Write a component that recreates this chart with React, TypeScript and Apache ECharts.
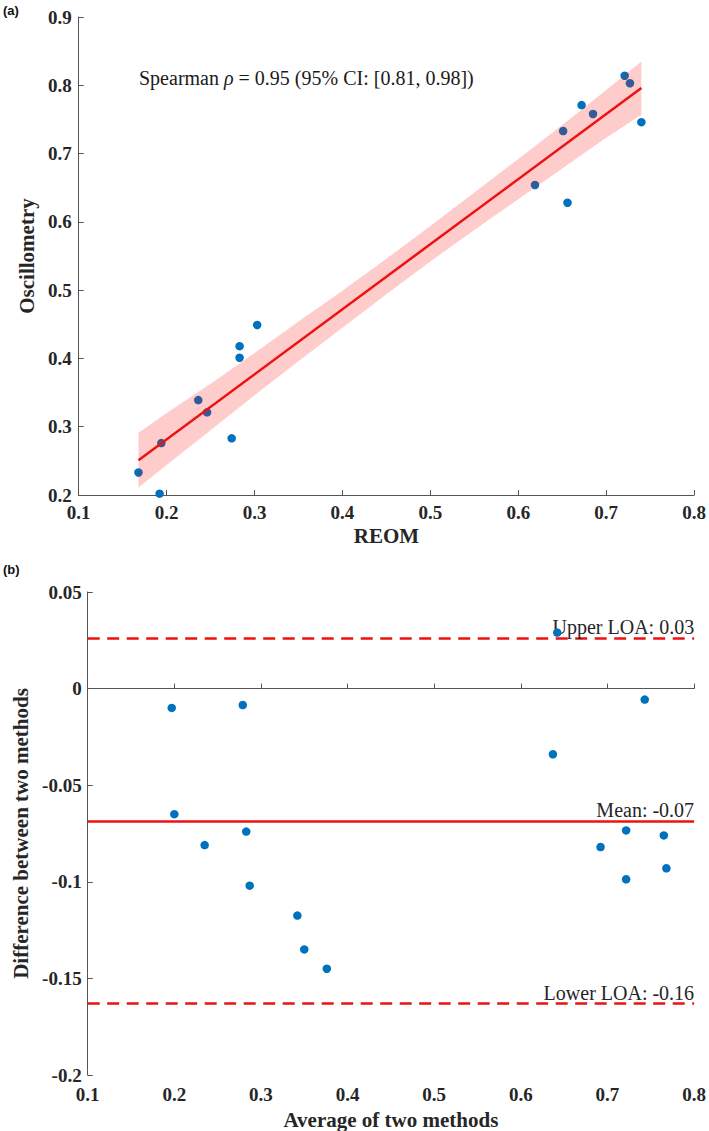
import React, { useEffect, useRef } from "react";
import * as echarts from "echarts";

// Panel (a): REOM vs Oscillometry
const reomX = [0.168, 0.192, 0.194, 0.236, 0.246, 0.274, 0.283, 0.283, 0.303, 0.619, 0.651, 0.656, 0.672, 0.685, 0.721, 0.727, 0.740];
const oscY = [0.233, 0.202, 0.276, 0.339, 0.321, 0.283, 0.418, 0.401, 0.449, 0.654, 0.733, 0.628, 0.771, 0.758, 0.814, 0.803, 0.746];
const fitX = [0.168, 0.740];
const fitY = [0.251, 0.796];
const bandX = [0.168, 0.2, 0.25, 0.3, 0.35, 0.4, 0.45, 0.5, 0.55, 0.6, 0.65, 0.7, 0.74];
const bandUpper = [0.291, 0.320, 0.363, 0.408, 0.454, 0.499, 0.546, 0.594, 0.643, 0.692, 0.742, 0.793, 0.835];
const bandLower = [0.211, 0.244, 0.295, 0.346, 0.396, 0.445, 0.494, 0.542, 0.588, 0.633, 0.678, 0.723, 0.757];

// Panel (b): Bland-Altman
const avgX = [0.197, 0.200, 0.235, 0.279, 0.283, 0.287, 0.342, 0.350, 0.376, 0.637, 0.642, 0.692, 0.7215, 0.7215, 0.743, 0.765, 0.768];
const diffY = [-0.010, -0.065, -0.081, -0.0085, -0.074, -0.102, -0.1175, -0.135, -0.145, -0.034, 0.029, -0.082, -0.0734, -0.0987, -0.0057, -0.076, -0.093];
const meanDiff = -0.0685;
const upperLOA = 0.026;
const lowerLOA = -0.163;
const refLabels = ["Upper LOA: 0.03", "Mean: -0.07", "Lower LOA: -0.16"];

const SERIF = "Liberation Serif";
const BLUE = "#0072BD";
const RED = "#ee1111";
const AX = "#555555";
const TXT = "#262626";

function axisLabel(margin: number) {
  return {
    show: true, margin,
    formatter: (v: number) => `{t|${Number(v.toFixed(4)).toString()}}`,
    rich: { t: { color: TXT, fontFamily: SERIF, fontWeight: "bold", fontSize: 19 } },
  };
}

export default function App() {
  const ref = useRef<HTMLDivElement>(null);
  useEffect(() => {
    document.body.style.margin = "0";
    const chart = echarts.init(ref.current!, null, { renderer: "svg" });
    const axisCommon = {
      axisLine: { show: true, lineStyle: { color: AX, width: 1 } },
      axisTick: { show: true, inside: true, length: 5, lineStyle: { color: AX } },
      splitLine: { show: false },
      nameTextStyle: { color: TXT, fontFamily: SERIF, fontWeight: "bold", fontSize: 21 },
      nameLocation: "middle",
    };
    const option: any = {
      animation: false,
      backgroundColor: "#ffffff",
      textStyle: { fontFamily: SERIF },
      grid: [
        { left: 78.7, right: 12.3, top: 17, height: 478 },
        { left: 87.7, right: 14.7, top: 592, height: 483 },
      ],
      xAxis: [
        { ...axisCommon, type: "value", gridIndex: 0, min: 0.1, max: 0.8, interval: 0.1, name: "REOM", nameGap: 30,
          axisLabel: axisLabel(8) },
        { ...axisCommon, type: "value", gridIndex: 1, min: 0.1, max: 0.8, interval: 0.1, name: "Average of two methods", nameGap: 34,
          axisLabel: axisLabel(10) },
      ],
      yAxis: [
        { ...axisCommon, type: "value", gridIndex: 0, min: 0.2, max: 0.9, interval: 0.1, name: "Oscillometry", nameGap: 38,
          axisLabel: axisLabel(7) },
        { ...axisCommon, type: "value", gridIndex: 1, min: -0.2, max: 0.05, interval: 0.05, name: "Difference between two methods", nameGap: 52,
          axisLabel: axisLabel(6) },
      ],
      series: [
        {
          type: "scatter", xAxisIndex: 0, yAxisIndex: 0, z: 2,
          symbolSize: 8.5, itemStyle: { color: BLUE, opacity: 1 },
          data: reomX.map((x, i) => [x, oscY[i]]),
        },
        {
          type: "custom", xAxisIndex: 0, yAxisIndex: 0, z: 3, silent: true,
          data: [[bandX[0], bandLower[0]]],
          renderItem: (_p: any, api: any) => {
            const pts: number[][] = [];
            bandX.forEach((x, i) => pts.push(api.coord([x, bandUpper[i]])));
            for (let i = bandX.length - 1; i >= 0; i--) pts.push(api.coord([bandX[i], bandLower[i]]));
            return { type: "polygon", shape: { points: pts }, style: { fill: "rgba(255,0,0,0.2)", stroke: "none" } };
          },
        },
        {
          type: "line", xAxisIndex: 0, yAxisIndex: 0, z: 4, showSymbol: false, silent: true,
          lineStyle: { color: RED, width: 2.5 },
          data: fitX.map((x, i) => [x, fitY[i]]),
        },
        {
          type: "scatter", xAxisIndex: 1, yAxisIndex: 1, z: 3,
          symbolSize: 8.5, itemStyle: { color: BLUE, opacity: 1 },
          data: avgX.map((x, i) => [x, diffY[i]]),
          markLine: {
            silent: true, symbol: ["none", "none"], z: 2, precision: 4,
            label: {
              position: "insideEndTop", distance: [0, 1], color: TXT, fontFamily: SERIF, fontSize: 20,
            },
            data: [
              { yAxis: upperLOA, lineStyle: { color: RED, width: 2.5, type: [12, 7.5] }, label: { formatter: refLabels[0] } },
              { yAxis: meanDiff, lineStyle: { color: RED, width: 2.5, type: "solid" }, label: { formatter: refLabels[1] } },
              { yAxis: lowerLOA, lineStyle: { color: RED, width: 2.5, type: [12, 7.5] }, label: { formatter: refLabels[2] } },
            ],
          },
        },
      ],
      graphic: [
        {
          type: "text", left: 139, top: 68,
          style: {
            text: "{n|Spearman }{i|ρ}{n| = 0.95 (95% CI: [0.81, 0.98])}",
            rich: {
              n: { fontFamily: SERIF, fontSize: 20, fill: "#1a1a1a" },
              i: { fontFamily: SERIF, fontSize: 20, fontStyle: "italic", fill: "#1a1a1a" },
            },
          },
        },
        { type: "text", left: 3, top: 4, style: { text: "(a)", font: "bold 13px 'Liberation Sans', Arial, sans-serif", fill: "#111" } },
        { type: "text", left: 3, top: 563, style: { text: "(b)", font: "bold 13px 'Liberation Sans', Arial, sans-serif", fill: "#111" } },
      ],
    };
    chart.setOption(option);
    return () => chart.dispose();
  }, []);
  return <div ref={ref} style={{ width: 709, height: 1131 }} />;
}
